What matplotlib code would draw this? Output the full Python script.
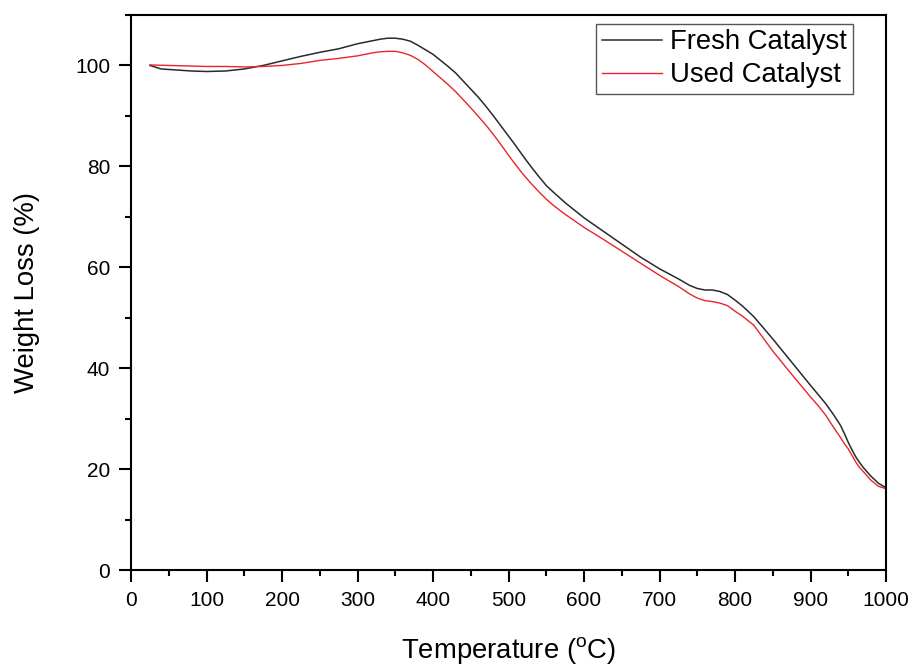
import matplotlib.pyplot as plt
from matplotlib.ticker import MultipleLocator

# TGA curves
temp_fresh = [25, 40, 60, 80, 100, 125, 150, 175, 200, 225, 250, 275, 300, 310, 320,
              330, 340, 350, 360, 370, 380, 390, 400, 410, 420, 430, 440, 450, 460,
              470, 480, 490, 500, 510, 520, 530, 540, 550, 560, 575, 600, 625, 650,
              675, 700, 725, 740, 750, 760, 770, 780, 790, 800, 810, 825, 850, 875,
              900, 910, 920, 930, 940, 945, 950, 955, 960, 965, 970, 980, 990, 1000]
wt_fresh = [100.0, 99.3, 99.1, 98.9, 98.8, 98.9, 99.3, 100.0, 100.9, 101.8, 102.6, 103.3,
            104.3, 104.6, 104.9, 105.2, 105.4, 105.4, 105.2, 104.8, 104.0, 103.1, 102.2,
            101.0, 99.8, 98.5, 96.9, 95.3, 93.7, 91.9, 90.0, 88.0, 86.0, 84.0, 81.9, 79.9,
            78.0, 76.2, 74.8, 72.8, 69.8, 67.2, 64.6, 62.0, 59.7, 57.7, 56.4, 55.8, 55.5,
            55.5, 55.2, 54.6, 53.5, 52.3, 50.2, 45.8, 41.2, 36.6, 34.8, 33.0, 30.9, 28.6,
            27.0, 25.3, 23.8, 22.4, 21.3, 20.3, 18.6, 17.2, 16.3]

temp_used = [25, 50, 75, 100, 125, 150, 175, 200, 225, 250, 275, 300, 310, 320, 330,
             340, 350, 360, 370, 380, 390, 400, 410, 420, 430, 440, 450, 460, 470, 480,
             490, 500, 510, 520, 530, 540, 550, 560, 575, 600, 625, 650, 675, 700, 725,
             740, 750, 760, 770, 780, 790, 800, 810, 825, 850, 875, 900, 910, 920, 930,
             940, 945, 950, 955, 960, 965, 970, 980, 990, 1000]
wt_used = [100.1, 100.0, 99.9, 99.8, 99.8, 99.7, 99.8, 100.0, 100.4, 101.0, 101.4, 101.9,
           102.2, 102.5, 102.7, 102.8, 102.8, 102.5, 102.0, 101.2, 100.1, 98.8, 97.5,
           96.2, 94.8, 93.2, 91.6, 89.9, 88.2, 86.3, 84.3, 82.2, 80.2, 78.3, 76.6, 75.0,
           73.5, 72.2, 70.5, 67.9, 65.6, 63.2, 60.8, 58.4, 56.2, 54.7, 53.9, 53.4, 53.2,
           52.9, 52.4, 51.3, 50.3, 48.5, 43.4, 38.8, 34.3, 32.6, 30.7, 28.4, 26.2, 25.0,
           24.0, 22.7, 21.4, 20.3, 19.5, 17.8, 16.6, 16.1]

plt.rcParams['font.family'] = ['Liberation Sans', 'DejaVu Sans']
plt.rcParams['mathtext.default'] = 'regular'

fig = plt.figure(figsize=(9.17, 6.66), dpi=100)
ax = fig.add_axes([0.1429, 0.1441, 0.8233, 0.8334])

ax.plot(temp_fresh, wt_fresh, color='#2a2a2a', lw=1.1, label='Fresh Catalyst')
ax.plot(temp_used, wt_used, color='#e8252a', lw=1.0, label='Used Catalyst')

ax.set_xlim(0, 1000)
ax.set_ylim(0, 110)
ax.xaxis.set_major_locator(MultipleLocator(100))
ax.xaxis.set_minor_locator(MultipleLocator(50))
ax.yaxis.set_major_locator(MultipleLocator(20))
ax.yaxis.set_minor_locator(MultipleLocator(10))

ax.tick_params(which='both', direction='out', width=1.5, top=False, right=False,
               labelsize=15)
ax.tick_params(which='major', length=8.5, pad=6.5)
ax.tick_params(which='minor', length=4.5)
for s in ax.spines.values():
    s.set_linewidth(1.5)

ax.set_xlabel('Temperature ($^o$C)', fontsize=19.8, labelpad=18)
ax.set_ylabel('Weight Loss (%)', fontsize=19.8, labelpad=25)

leg = ax.legend(loc='upper right', bbox_to_anchor=(0.956, 0.984), fontsize=19.8,
                fancybox=False, framealpha=1, edgecolor='#555555',
                handlelength=2.2, handletextpad=0.3, borderpad=0.2,
                labelspacing=0.25, borderaxespad=0)
leg.get_frame().set_linewidth(1.0)

plt.savefig('out.png', dpi=100)
